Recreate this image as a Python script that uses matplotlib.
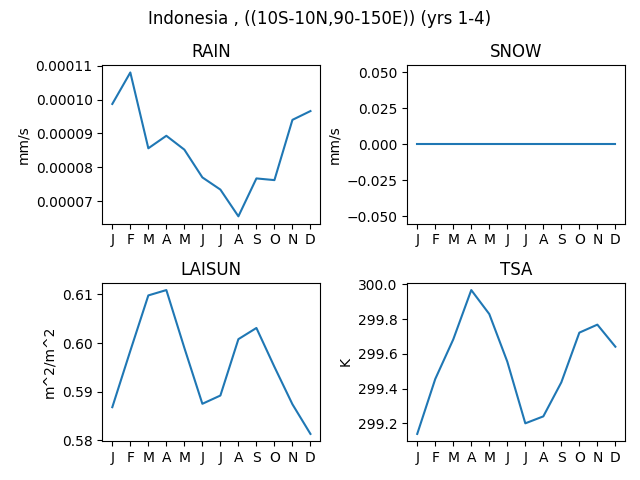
import matplotlib
matplotlib.use("Agg")
import matplotlib.pyplot as plt
import numpy as np

months = ["J", "F", "M", "A", "M", "J", "J", "A", "S", "O", "N", "D"]
rain = [0.0000987, 0.0001080, 0.0000856, 0.0000893, 0.0000852, 0.0000770,
        0.0000734, 0.0000655, 0.0000767, 0.0000762, 0.0000940, 0.0000966]
snow = [0.0] * 12
laisun = [0.5868, 0.5984, 0.6098, 0.6109, 0.5990, 0.5875,
          0.5892, 0.6008, 0.6031, 0.5951, 0.5874, 0.5813]
tsa = [299.139, 299.455, 299.683, 299.967, 299.829, 299.555,
       299.200, 299.240, 299.436, 299.722, 299.768, 299.641]

panels = [("RAIN", rain, "mm/s"), ("SNOW", snow, "mm/s"),
          ("LAISUN", laisun, "m^2/m^2"), ("TSA", tsa, "K")]

fig, axes = plt.subplots(2, 2, figsize=(6.4, 4.8), dpi=100)
x = np.arange(12)
for ax, (name, vals, unit) in zip(axes.flat, panels):
    ax.plot(x, vals)
    ax.set_title(name)
    ax.set_ylabel(unit)
    ax.set_xticks(x)
    ax.set_xticklabels(months)
fig.suptitle("Indonesia , ((10S-10N,90-150E)) (yrs 1-4)")
fig.subplots_adjust(left=0.160, right=0.977, top=0.864, bottom=0.081,
                    hspace=0.375, wspace=0.399)
fig.savefig("out.png")
